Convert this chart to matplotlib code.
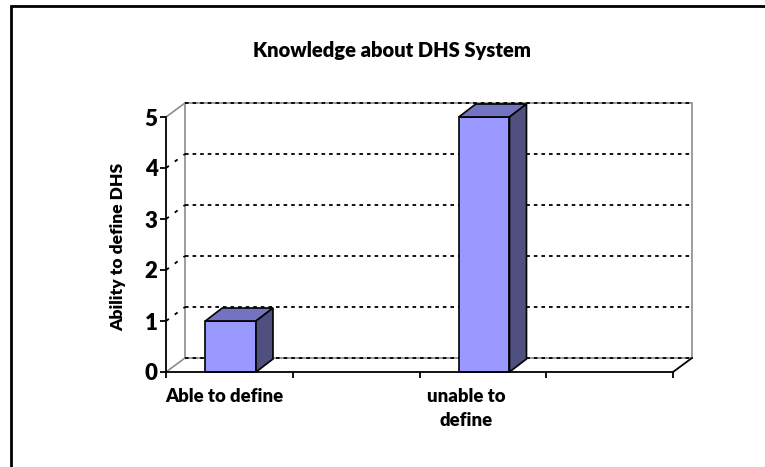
import matplotlib
matplotlib.use('Agg')
import matplotlib.pyplot as plt
from matplotlib.patches import Rectangle, Polygon
import numpy as np

# datos del grafico
categorias = ['Able to define', '', 'unable to\ndefine', '']
valores = [1, np.nan, 5, np.nan]
yticks = [0, 1, 2, 3, 4, 5]
titulo = 'Knowledge about DHS System'
etiqueta_y = 'Ability to define DHS'

plt.rcParams['font.family'] = ['Lato', 'DejaVu Sans']
peso = 'heavy'

fig = plt.figure(figsize=(7.65, 4.67), dpi=100)
W, H = 765, 467

# area frontal del grafico en pixeles
x0, x1, y0, y1 = 166, 673, 372, 117
ax = fig.add_axes([x0 / W, 1 - y0 / H, (x1 - x0) / W, (y0 - y1) / H])
n = len(categorias)
ax.set_xlim(0, n)
ax.set_ylim(0, 5)
ax.patch.set_visible(False)

# profundidad 3D en unidades de datos
ux = (x1 - x0) / n
uy = (y0 - y1) / 5
dxw, dyw = 19 / ux, 14 / uy   # pared del fondo
dxb, dyb = 17 / ux, 13 / uy   # barras

gris = '#8c8c8c'
# pared del fondo
ax.add_patch(Rectangle((dxw, dyw), n, 5, facecolor='white', edgecolor=gris,
                       lw=1.2, clip_on=False, zorder=1))
# lineas de la pared lateral (grises)
ax.plot([0, dxw], [0, dyw], color=gris, lw=1.2, clip_on=False, zorder=1)
ax.plot([0, dxw], [5, 5 + dyw], color=gris, lw=1.2, clip_on=False, zorder=1)
# cuadricula punteada
for v in yticks:
    ax.plot([dxw, n + dxw], [v + dyw, v + dyw], color='black', lw=1.3,
            dashes=(2, 2.2), clip_on=False, zorder=2)
    if 0 < v < 5:
        ax.plot([0, dxw], [v, v + dyw], color='black', lw=1.3,
                dashes=(2, 4), clip_on=False, zorder=2)
# borde derecho del piso
ax.plot([n, n + dxw], [0, dyw], color='black', lw=1.3, clip_on=False, zorder=3)

# barras 3D
ancho = 0.4
cara = '#9999ff'
tapa = '#7373c2'
lado = '#4f4f80'
for i, v in enumerate(valores):
    if np.isnan(v):
        continue
    xl = i + 0.31
    xr = xl + ancho
    ax.add_patch(Rectangle((xl, 0), ancho, v, facecolor=cara, edgecolor='black',
                           lw=1.2, clip_on=False, zorder=5))
    ax.add_patch(Polygon([(xl, v), (xr, v), (xr + dxb, v + dyb), (xl + dxb, v + dyb)],
                         closed=True, facecolor=tapa, edgecolor='black',
                         lw=1.2, clip_on=False, zorder=5))
    ax.add_patch(Polygon([(xr, 0), (xr + dxb, dyb), (xr + dxb, v + dyb), (xr, v)],
                         closed=True, facecolor=lado, edgecolor='black',
                         lw=1.2, clip_on=False, zorder=5))

# ejes
for s in ['top', 'right']:
    ax.spines[s].set_visible(False)
ax.spines['left'].set_linewidth(1.3)
ax.spines['bottom'].set_linewidth(1.3)
ax.spines['left'].set_zorder(6)
ax.spines['bottom'].set_zorder(6)
ax.set_yticks(yticks)
ax.set_yticklabels([str(t) for t in yticks], fontsize=16, fontweight=peso)
ax.tick_params(axis='y', direction='out', length=4, width=1.3, pad=2)
ax.set_xticks(np.arange(n + 1))
ax.set_xticklabels([])
ax.tick_params(axis='x', direction='out', length=4, width=1.3)

# etiquetas de categoria
pos_etiquetas = [0.46, 0, 2.37, 0]
for i, c in enumerate(categorias):
    if c:
        ax.text(pos_etiquetas[i], -0.32, c, ha='center', va='top', fontsize=13.3,
                fontweight=peso, linespacing=1.5)

ax.text(-0.095, 0.49, etiqueta_y, transform=ax.transAxes, rotation=90,
        ha='center', va='center', fontsize=12.6, fontweight=peso)
fig.text(392 / W, 1 - 50 / H, titulo, ha='center', va='center',
         fontsize=14.5, fontweight=peso)

# marco exterior
fig.patches.append(Rectangle((11 / W, -0.1), 1.2, 1.1 - 6 / H, transform=fig.transFigure,
                             fill=False, edgecolor='black', lw=2))

fig.savefig('out.png', dpi=100)
